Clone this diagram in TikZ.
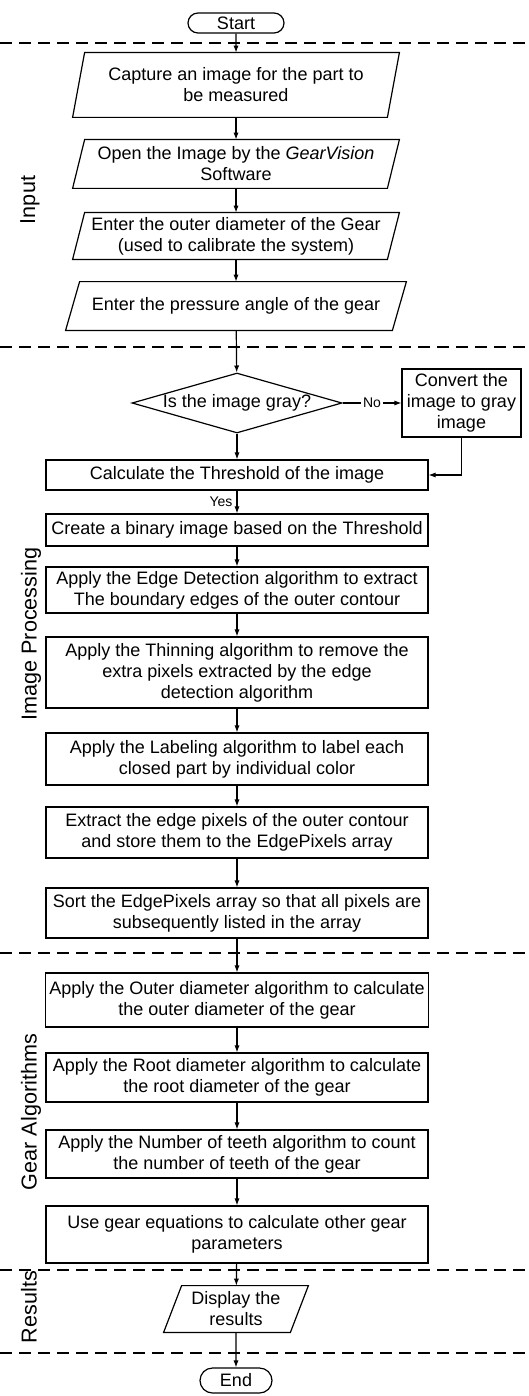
\documentclass[tikz,border=0pt]{standalone}
\usepackage{fontspec}
\setmainfont{Liberation Sans}
\usetikzlibrary{arrows.meta,shapes.geometric,shapes.misc}
\newcommand{\ioshape}[2]{\draw[line] ([xshift=#2]#1.north west) -- ([xshift=#2]#1.north east) -- ([xshift=-#2]#1.south east) -- ([xshift=-#2]#1.south west) -- cycle;}
\begin{document}
\begin{tikzpicture}[x=0.5pt,y=-0.5pt,
  font=\fontsize{9}{10.5}\selectfont,
  line/.style={line width=0.6pt},
  arr/.style={line, -{Latex[length=3.5pt,width=2.6pt]}},
  sep/.style={line width=0.7pt, dash pattern=on 6pt off 3.5pt},
  proc/.style={draw, line, rectangle, minimum width=191pt, align=center, inner xsep=2pt, inner ysep=0pt},
  iobox/.style={rectangle, align=center, inner sep=0pt},
  term/.style={draw, line, rounded rectangle, inner xsep=2pt, inner ysep=0.5pt},
  side/.style={rotate=90, font=\fontsize{10.8}{12}\selectfont},
  lbl/.style={font=\fontsize{7}{8}\selectfont, inner sep=1pt}]
\useasboundingbox (0,0) rectangle (529,1396);

% separators
\draw[sep] (0,43) -- (529,43);
\draw[sep] (0,347) -- (529,347);
\draw[sep] (0,953) -- (529,953);
\draw[sep] (0,1270) -- (529,1270);
\draw[sep] (0,1353) -- (529,1353);

% side labels
\node[side] (lin) at (30,200) {Input};
\node[side] (lip) at (31,634) {Image Processing};
\node[side] (lga) at (31,1112) {Gear Algorithms};
\node[side] (lre) at (29,1307) {Results};

% nodes
\node[term, minimum width=52pt, minimum height=10pt] (start) at (236,23) {Start};

\node[iobox, minimum width=157pt, minimum height=32pt] (capture) at (236,85) {Capture an image for the part to\\be measured};
\ioshape{capture}{3pt}
\node[iobox, minimum width=157pt, minimum height=24pt] (open) at (236,164) {Open the Image by the \textit{GearVision}\\Software};
\ioshape{open}{3pt}
\node[iobox, minimum width=157pt, minimum height=23pt] (outerin) at (236,236) {Enter  the outer diameter of the Gear\\(used to calibrate the system)};
\ioshape{outerin}{3pt}
\node[iobox, minimum width=163pt, minimum height=24pt] (press) at (236,306) {Enter the pressure angle of the gear};
\ioshape{press}{3.5pt}

\node[draw, line, diamond, aspect=3.5, minimum width=105pt, minimum height=30pt, inner sep=0pt] (dec) at (237,403) {Is the image gray?};
\node[draw, line, rectangle, minimum width=59.5pt, minimum height=34pt, align=center, inner sep=0pt] (convert) at (461.5,403) {Convert the\\image to gray\\image};

\node[proc, minimum height=15pt] (calc) at (237,475) {Calculate the Threshold of the image};
\node[proc, minimum height=16pt] (create) at (237,530) {Create a binary image based on the Threshold};
\node[proc, minimum height=23pt] (edge) at (237,590) {Apply the Edge Detection algorithm to extract\\The boundary edges of the outer contour};
\node[proc, minimum height=35.5pt] (thin) at (237,672.5) {Apply the Thinning algorithm to remove the\\extra pixels extracted by the edge\\detection algorithm};
\node[proc, minimum height=26pt] (label) at (237,759) {Apply the Labeling algorithm to label each\\closed part by individual color};
\node[proc, minimum height=25.5pt] (extract) at (237,832.5) {Extract the edge pixels of the outer contour\\and store them to the EdgePixels array};
\node[proc, minimum height=25pt] (sort) at (237,913) {Sort the EdgePixels array so that all pixels are\\subsequently listed in the array};

\node[proc, minimum height=27pt] (outer) at (237,1000) {Apply the Outer diameter algorithm to calculate\\the outer diameter of the gear};
\node[proc, minimum height=24.5pt] (root) at (237,1077.5) {Apply the Root diameter algorithm to calculate\\the root diameter of the gear};
\node[proc, minimum height=24pt] (teeth) at (237,1154) {Apply the Number of teeth algorithm to count\\the number of teeth of the gear};
\node[proc, minimum height=28.5pt] (use) at (237,1234.5) {Use gear equations to calculate other gear\\parameters};

\node[iobox, minimum width=63pt, minimum height=23pt] (display) at (236,1309) {Display the\\results};
\ioshape{display}{4.5pt}

\node[term, minimum width=40pt, minimum height=12.5pt] (end) at (236,1380.5) {End};

% connectors
\draw[arr] (start) -- (capture);
\draw[arr] (capture) -- (open);
\draw[arr] (open) -- (outerin);
\draw[arr] (outerin) -- (press);
\draw[arr] (press) -- (dec);
\draw[arr] (dec) -- (calc);
\draw[arr] (dec.east) -- node[lbl, fill=white] {No} (convert.west);
\draw[arr] (convert.south) |- (calc.east);
\draw[arr] (calc) -- node[lbl, left, xshift=-1pt] {Yes} (create);
\draw[arr] (create) -- (edge);
\draw[arr] (edge) -- (thin);
\draw[arr] (thin) -- (label);
\draw[arr] (label) -- (extract);
\draw[arr] (extract) -- (sort);
\draw[arr] (sort) -- (outer);
\draw[arr] (outer) -- (root);
\draw[arr] (root) -- (teeth);
\draw[arr] (teeth) -- (use);
\draw[arr] (use) -- (display);
\draw[arr] (display) -- (end);
\end{tikzpicture}
\end{document}
